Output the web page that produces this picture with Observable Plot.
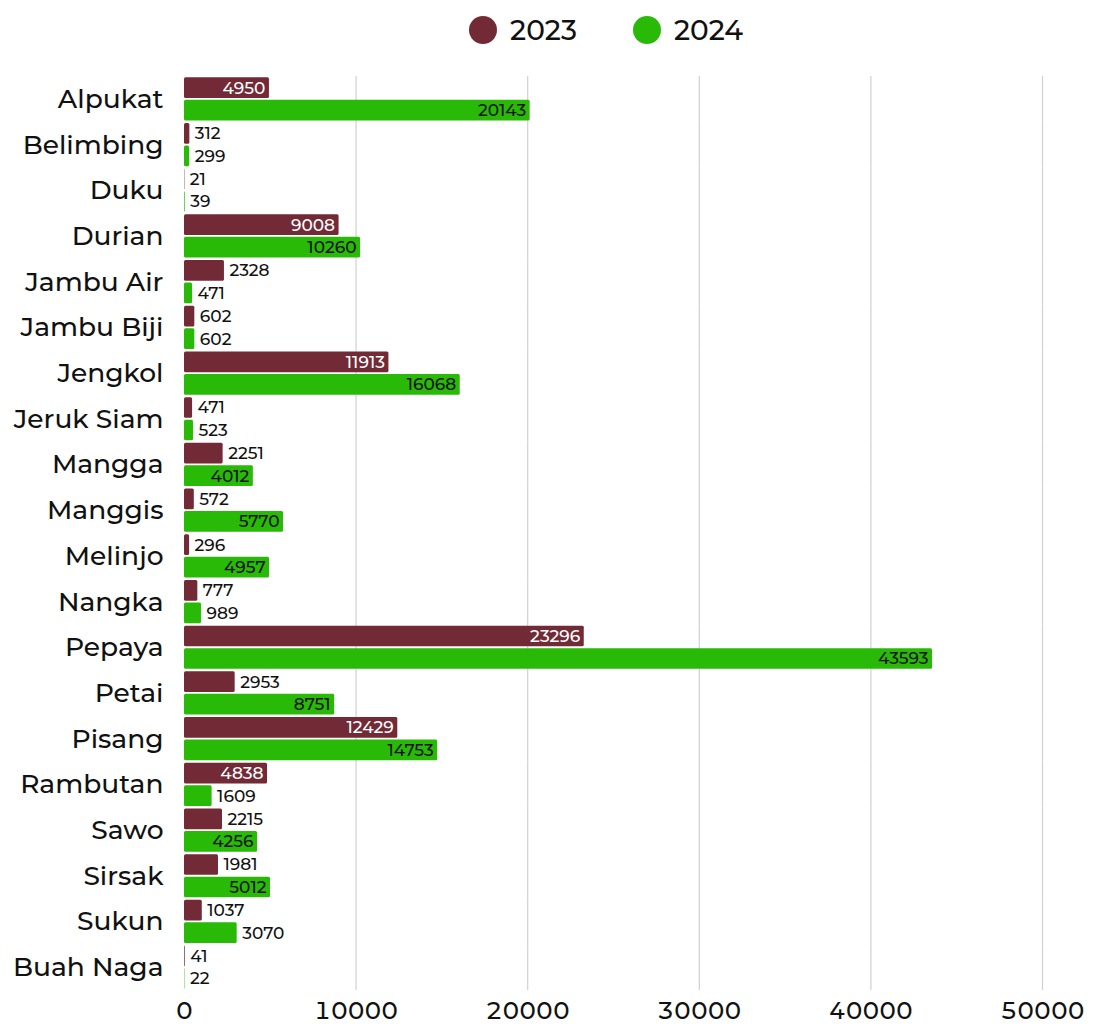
<!DOCTYPE html>
<html>
<head>
<meta charset="utf-8">
<script src="https://cdn.jsdelivr.net/npm/d3@7"></script>
<script src="https://cdn.jsdelivr.net/npm/@observablehq/plot@0.6"></script>
<style>
  body { margin: 0; background: #fff; font-family: Montserrat, "Open Sans", sans-serif; }
  #legend { height: 60px; box-sizing: border-box; display: flex; justify-content: center; align-items: center; gap: 56px; font-size: 28px; font-weight: 500; color: #111; padding-left: 118px; }
  #legend .item { display: flex; align-items: center; gap: 13px; }
  #legend .sw { width: 28px; height: 28px; border-radius: 50%; display: inline-block; }
</style>
</head>
<body>
<div id="legend"></div>
<div id="chart"></div>
<script>
const fruits = ["Alpukat","Belimbing","Duku","Durian","Jambu Air","Jambu Biji","Jengkol","Jeruk Siam","Mangga","Manggis","Melinjo","Nangka","Pepaya","Petai","Pisang","Rambutan","Sawo","Sirsak","Sukun","Buah Naga"];
const values2023 = [4950,312,21,9008,2328,602,11913,471,2251,572,296,777,23296,2953,12429,4838,2215,1981,1037,41];
const values2024 = [20143,299,39,10260,471,602,16068,523,4012,5770,4957,989,43593,8751,14753,1609,4256,5012,3070,22];
const years = ["2023","2024"];
const colors = ["#722B36","#29BA08"];
const xTicks = [0,10000,20000,30000,40000,50000];

const data = [];
fruits.forEach((f, i) => {
  data.push({fruit: f, year: "2023", value: values2023[i]});
  data.push({fruit: f, year: "2024", value: values2024[i]});
});

const legend = document.getElementById("legend");
years.forEach((y, i) => {
  const it = document.createElement("div");
  it.className = "item";
  it.innerHTML = `<span class="sw" style="background:${colors[i]}"></span><span>${y}</span>`;
  legend.appendChild(it);
});

const threshold = 3500;
const chart = Plot.plot({
  width: 1094,
  height: 964,
  marginLeft: 184,
  marginRight: 52,
  marginTop: 16,
  marginBottom: 34,
  style: {fontFamily: 'Montserrat, "Open Sans", sans-serif', background: "#fff"},
  x: {domain: [0, 50000], label: null},
  y: {domain: years, axis: null, paddingInner: 0.08, paddingOuter: 0.055, round: false},
  fy: {domain: fruits, padding: 0, label: null, round: false},
  color: {domain: years, range: colors},
  facet: {data, y: "fruit", marginLeft: 184, marginTop: 16, marginBottom: 34, marginRight: 52},
  marks: [
    Plot.gridX(xTicks.filter(d => d > 0), {stroke: "#d0d0d0", strokeOpacity: 1, strokeWidth: 1.2}),
    Plot.axisX(xTicks, {tickSize: 0, tickPadding: 11, tickFormat: d => String(d), fontSize: 24, fontWeight: 500, fill: "#111", label: null}),
    Plot.axisFy({anchor: "left", tickSize: 0, tickPadding: 21, fontSize: 26.5, fontWeight: 500, fill: "#111", label: null}),
    Plot.barX(data, {x: "value", y: "year", fill: "year", rx: 1.5}),
    Plot.text(data, {filter: d => d.value >= threshold, x: "value", y: "year", text: d => String(d.value), textAnchor: "end", dx: -4, fill: d => d.year === "2023" ? "#fff" : "#111", fontSize: 17, fontWeight: 500}),
    Plot.text(data, {filter: d => d.value < threshold, x: "value", y: "year", text: d => String(d.value), textAnchor: "start", dx: 5, fill: "#111", fontSize: 17, fontWeight: 500})
  ]
});
document.getElementById("chart").appendChild(chart);
</script>
</body>
</html>
